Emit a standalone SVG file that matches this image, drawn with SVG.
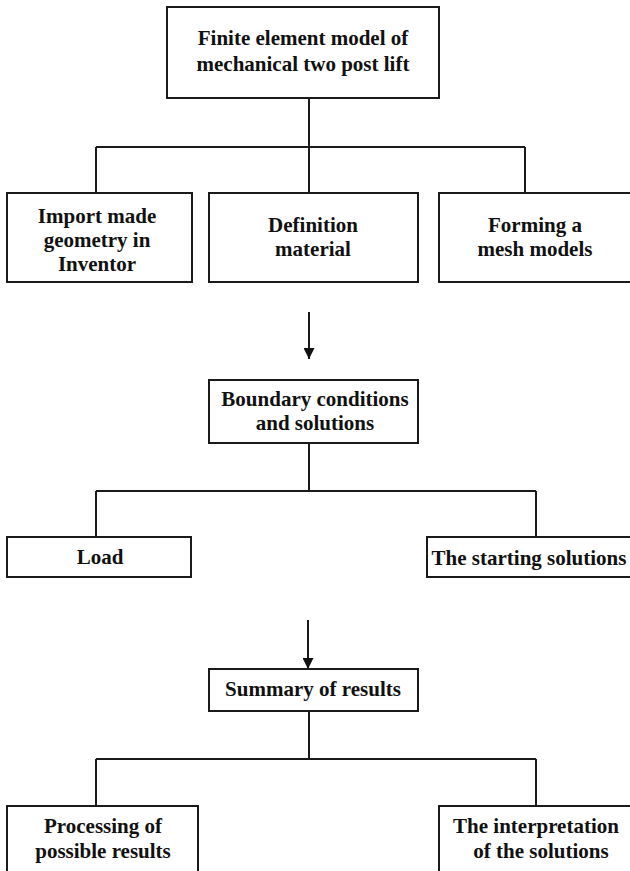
<svg xmlns="http://www.w3.org/2000/svg" width="630" height="871" viewBox="0 0 630 871">
<defs>
<style>
.box{fill:#fff;stroke:#1a1a1a;stroke-width:2}
.t{font-family:"Liberation Serif","Times New Roman",serif;font-weight:bold;font-size:21px;fill:#111;text-anchor:middle}
.c{fill:none;stroke:#1a1a1a;stroke-width:2}
</style>
<marker id="ah" viewBox="0 0 10 10" refX="10" refY="5" markerWidth="11" markerHeight="11" markerUnits="userSpaceOnUse" orient="auto">
<path d="M0,0 L10,5 L0,10 z" fill="#111"/>
</marker>
</defs>
<rect width="630" height="871" fill="#fff"/>
<g id="connectors">
<path class="c" d="M309,98 V147 M96,147 H525 M96,147 V193 M309,147 V193 M525,147 V193"/>
<line class="c" x1="309" y1="312" x2="309" y2="359" marker-end="url(#ah)"/>
<path class="c" d="M309,443 V491 M96,491 H536 M96,491 V537 M536,491 V537"/>
<line class="c" x1="308" y1="620" x2="308" y2="669" marker-end="url(#ah)"/>
<path class="c" d="M309,711 V759 M96,759 H536 M96,759 V806 M536,759 V806"/>
</g>
<g id="n-top">
<rect class="box" x="167" y="7" width="272" height="91"/>
<text class="t" x="303" y="45">Finite element model of</text>
<text class="t" x="303" y="71">mechanical two post lift</text>
</g>
<g id="n-import">
<rect class="box" x="7" y="193" width="185" height="89"/>
<text class="t" x="97" y="223">Import made</text>
<text class="t" x="97" y="247">geometry in</text>
<text class="t" x="97" y="271">Inventor</text>
</g>
<g id="n-definition">
<rect class="box" x="209" y="193" width="209" height="89"/>
<text class="t" x="313" y="232">Definition</text>
<text class="t" x="313" y="256">material</text>
</g>
<g id="n-mesh">
<rect class="box" x="439" y="193" width="195" height="89"/>
<text class="t" x="535" y="232">Forming a</text>
<text class="t" x="535" y="256">mesh models</text>
</g>
<g id="n-boundary">
<rect class="box" x="209" y="380" width="209" height="63"/>
<text class="t" x="315" y="406">Boundary conditions</text>
<text class="t" x="315" y="430">and solutions</text>
</g>
<g id="n-load">
<rect class="box" x="7" y="537" width="184" height="40"/>
<text class="t" x="100" y="564">Load</text>
</g>
<g id="n-starting">
<rect class="box" x="427" y="537" width="210" height="40"/>
<text class="t" x="529" y="565">The starting solutions</text>
</g>
<g id="n-summary">
<rect class="box" x="209" y="669" width="209" height="42"/>
<text class="t" x="313" y="696">Summary of results</text>
</g>
<g id="n-processing">
<rect class="box" x="7" y="806" width="191" height="75"/>
<text class="t" x="103" y="833">Processing of</text>
<text class="t" x="103" y="858">possible results</text>
</g>
<g id="n-interpretation">
<rect class="box" x="439" y="806" width="200" height="75"/>
<text class="t" x="536" y="833">The interpretation</text>
<text class="t" x="541" y="858">of the solutions</text>
</g>
</svg>
